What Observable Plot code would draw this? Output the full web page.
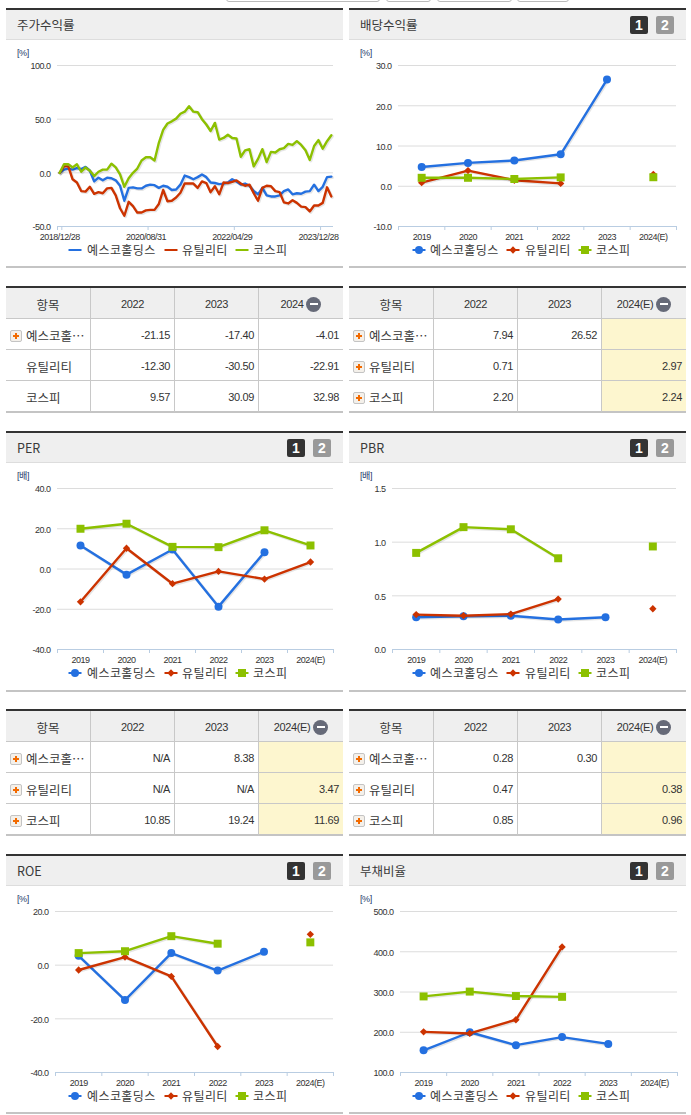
<!DOCTYPE html>
<html lang="ko">
<head>
<meta charset="utf-8">
<script src="https://cdn.jsdelivr.net/npm/d3@7"></script>
<script src="https://cdn.jsdelivr.net/npm/@observablehq/plot@0.6"></script>
<style>
html,body{margin:0;padding:0;background:#fff;width:691px;height:1115px;overflow:hidden}
body{position:relative;font-family:"Noto Sans CJK KR","Noto Sans",sans-serif;color:#333}
.abs{position:absolute}
.title{font-size:12.5px;line-height:16px;color:#3a3a3a;white-space:nowrap}
.unit{font-family:"Liberation Sans","Noto Sans CJK KR",sans-serif;font-size:9px;line-height:10px;letter-spacing:-.4px;color:#1d3a6b;white-space:nowrap}
.ico{width:18px;height:18px;border-radius:2px;color:#fff;font:bold 14px/18px "Liberation Sans",sans-serif;text-align:center}
.leg{display:flex;align-items:center;font-size:12px;letter-spacing:.4px;line-height:14px;color:#3a3a3a;white-space:nowrap}
table{position:absolute;width:337px;table-layout:fixed;border-collapse:separate;border-spacing:0;border-top:2px solid #333;font-family:"Liberation Sans",sans-serif;font-size:11px;color:#333}
td,th{box-sizing:border-box;height:31px;padding:2px 4px 0;border-bottom:1px solid #c8c8c8;border-right:1px solid #c8c8c8;font-weight:normal;text-align:right;letter-spacing:-.35px;white-space:nowrap;overflow:hidden}
td:first-child,th:first-child{width:85px}
td:last-child,th:last-child{border-right:0;width:84px}
th{background:#efefef;text-align:center;letter-spacing:-.4px}
tr:last-child td{height:32px;border-bottom:2px solid #c4c4c4}
td.name{position:relative;text-align:left;padding-left:20px;font-family:"Noto Sans CJK KR",sans-serif;font-size:12.5px;letter-spacing:0;overflow:visible;color:#3a3a3a}
td.est{background:#fdf6cf}
.plus{position:absolute;left:4px;top:11px;width:10px;height:10px;border:1px solid #c4c4c4;border-radius:2px;background:#f4f0ea}
.plus:before{content:"";position:absolute;left:2px;top:4px;width:6px;height:2px;background:#f26a00}
.plus:after{content:"";position:absolute;left:4px;top:2px;width:2px;height:6px;background:#f26a00}
.thw{display:flex;justify-content:center;align-items:center;gap:3px}
.minus{position:relative;width:15px;height:15px;border-radius:50%;background:#666a78;display:inline-block}
.minus:before{content:"";position:absolute;left:3.5px;top:6.5px;width:8px;height:2px;background:#fff}
.stub{position:absolute;top:-18px;height:18px;border:1px solid #bbb;border-radius:3px;box-sizing:content-box}
</style>
</head>
<body>
<script>
// ---- categories and labels ----
const seriesNames = ["예스코홀딩스", "유틸리티", "코스피"];
const years = ["2019", "2020", "2021", "2022", "2023", "2024(E)"];
const stockDates = ["2018/12/28", "2020/08/31", "2022/04/29", "2023/12/28"];
const stockDateIdx = [0, 20, 40, 60];

// ---- 주가수익률 (monthly) ----
const stockBlue = [
  0, 3, 4, 3, 4.5, 3.5, 5.5, 2, -8, -4.5,
  -7, -4.5, -5, -7, -12, -26, -14, -13.5, -14.5, -14.5,
  -12, -11, -11.5, -14, -12, -13, -16, -15.5, -11, -2.5,
  -4, -6, -4, -1.5, -4, -9, -9.5, -10.5, -10, -9,
  -6, -8, -11, -10, -12, -17, -20, -14, -21, -22,
  -22, -21, -17, -15.5, -20, -19, -19.5, -17.5, -17, -11,
  -17, -13, -4, -3.5
];
const stockRed = [
  0, 6, 6, -6, -9, -17, -17.5, -13, -19.5, -18,
  -19, -14.5, -14, -21, -33, -40, -27, -31, -37, -37,
  -35, -34.5, -34.5, -29, -16, -26.5, -26, -23, -18.5, -10,
  -10, -10, -14, -8, -9.5, -18, -12.5, -20, -9, -9.5,
  -8.5, -7, -10, -12, -11, -19, -26, -14, -12, -12.5,
  -17, -18, -27.5, -28.5, -25.5, -28, -31.5, -32, -36, -30.5,
  -30.5, -28, -13.5, -22
];
const stockGreen = [
  0, 8, 8, 5, 8, 1, 5, 2, -3, 1,
  3, 3, 8.5, 5, -1.5, -13, -5, 0, 4, 11.5,
  14.5, 14.5, 11.5, 28, 40, 46, 48, 50.5, 55, 57,
  62, 57, 56.5, 50, 45, 39, 46.5, 31, 32.5, 35.5,
  32.5, 32, 15, 21, 22, 6, 13, 22, 10, 19.5,
  19, 22, 23, 27, 26, 29.5, 26, 21, 12, 25,
  30.5, 22.5, 29.5, 35
];

// ---- annual charts ----
const divBlue = [4.8, 5.8, 6.4, 7.94, 26.52, null];
const divRed = [0.9, 3.9, 1.5, 0.71, null, 2.97];
const divGreen = [2.1, 2.1, 1.8, 2.2, null, 2.24];
const perBlue = [11.7, -2.8, 9.7, -18.7, 8.38, null];
const perRed = [-16.3, 10.3, -7.3, -1.2, -5, 3.47];
const perGreen = [20, 22.5, 11, 10.85, 19.24, 11.69];
const pbrBlue = [0.3, 0.31, 0.315, 0.28, 0.3, null];
const pbrRed = [0.325, 0.315, 0.33, 0.47, null, 0.38];
const pbrGreen = [0.9, 1.14, 1.12, 0.85, null, 0.96];
const roeBlue = [3.5, -13, 4.5, -2, 5, null];
const roeRed = [-1.8, 3, -4.2, -30.3, null, 11.5];
const roeGreen = [4.5, 5.2, 10.8, 8, null, 8.5];
const debtBlue = [155, 200, 168, 188, 171, null];
const debtRed = [201, 197, 231, 412, null, null];
const debtGreen = [289, 301, 290, 288, null, null];

// ---- y ticks ----
const stockTicks = [-50, 0, 50, 100];
const divTicks = [-10, 0, 10, 20, 30];
const perTicks = [-40, -20, 0, 20, 40];
const pbrTicks = [0, 0.5, 1, 1.5];
const roeTicks = [-40, -20, 0, 20];
const debtTicks = [100, 200, 300, 400, 500];

// ---- tables ----
const tbl1Head = ["항목", "2022", "2023", "2024"];
const tbl1Rows = [["예스코홀…", "-21.15", "-17.40", "-4.01"], ["유틸리티", "-12.30", "-30.50", "-22.91"], ["코스피", "9.57", "30.09", "32.98"]];
const tbl2Head = ["항목", "2022", "2023", "2024(E)"];
const tbl2Rows = [["예스코홀…", "7.94", "26.52", ""], ["유틸리티", "0.71", "", "2.97"], ["코스피", "2.20", "", "2.24"]];
const tbl3Rows = [["예스코홀…", "N/A", "8.38", ""], ["유틸리티", "N/A", "N/A", "3.47"], ["코스피", "10.85", "19.24", "11.69"]];
const tbl4Rows = [["예스코홀…", "0.28", "0.30", ""], ["유틸리티", "0.47", "", "0.38"], ["코스피", "0.85", "", "0.96"]];

// ---- style and layout ----
const colors = ["#2470e0", "#cc3300", "#8cc000"];
const symbols = ["circle", "diamond2", "square"];
const radii = [4, 3.3, 4.5];
const GRID = "#dcdcdc", AXIS = "#b9cde2";
const COL = [6, 349];
const page = document.body;

function add(cls, left, top, html, extra) {
  const d = document.createElement("div");
  d.className = "abs " + cls;
  d.style.left = left + "px"; d.style.top = top + "px";
  if (html != null) d.innerHTML = html;
  if (extra) Object.assign(d.style, extra);
  page.appendChild(d);
  return d;
}

function panel(col, top, bottom, title, icons) {
  const x = COL[col], w = 337;
  add("", x, top, null, {width: w + "px", height: "2px", background: "#333"});
  add("", x, top + 2, null, {width: w + "px", height: "30px", background: "#efefef", borderBottom: "1px solid #ddd", boxSizing: "border-box"});
  add("", x, bottom, null, {width: w + "px", height: "2px", background: "#c4c4c4"});
  add("title", x + 11, top + 9, title);
  if (icons) {
    add("ico", x + 281, top + 8, "1", {background: "#333"});
    add("ico", x + 307, top + 8, "2", {background: "#999"});
  }
}

function marksFor(rows, pointMarkers) {
  const marks = [];
  rows.forEach((vals, k) => {
    const d = vals.map((v, i) => ({i, v}));
    const X = pointMarkers ? (p => p.i + 0.5) : (p => p.i);
    marks.push(Plot.line(d, {x: X, y: "v", stroke: "#000", strokeOpacity: 0.1, strokeWidth: 3, dx: 1, dy: 1}));
    marks.push(Plot.line(d, {x: X, y: "v", stroke: colors[k], strokeWidth: 2.4, strokeLinejoin: "round"}));
    if (pointMarkers) marks.push(Plot.dot(d, {x: X, y: "v", fill: colors[k], stroke: "none", symbol: () => symbols[k], r: radii[k]}));
  });
  return marks;
}

function chart(o) {
  const plotH = o.bottom - o.top;
  const svgTop = o.top - 10, x0 = COL[o.col];
  const marks = [
    Plot.ruleY(o.ticks.filter(t => t !== o.ticks[0]), {stroke: GRID}),
    Plot.ruleY([o.ticks[0]], {stroke: AXIS}),
    Plot.axisY({ticks: o.ticks, tickSize: 0, tickPadding: 7, dy: 1, tickFormat: t => t.toFixed(1), label: null, fill: "#333"}),
    Plot.axisX({ticks: o.tickAt, tickSize: 4, tickFormat: () => "", label: null, stroke: AXIS}),
    Plot.axisX({ticks: o.labelAt, tickSize: 0, tickPadding: 7, tickFormat: o.labelFmt, label: null, fill: "#333"}),
    ...marksFor(o.rows, o.markers)
  ];
  const svg = Plot.plot({
    width: 337, height: plotH + 30,
    marginLeft: o.left - x0, marginRight: x0 + 337 - o.right, marginTop: 10, marginBottom: 20,
    x: {type: "linear", domain: o.xDomain},
    y: {type: "linear", domain: [o.ticks[0], o.ticks[o.ticks.length - 1]]},
    style: {fontFamily: '"Liberation Sans",sans-serif', fontSize: "9px", letterSpacing: "-0.5px", color: "#333", background: "transparent", overflow: "visible"},
    marks
  });
  svg.style.position = "absolute";
  svg.style.left = x0 + "px";
  svg.style.top = svgTop + "px";
  page.appendChild(svg);
  add("unit", x0 + 11, o.top - 17, o.unit);
  legend(o.col, o.bottom + 24, o.markers);
}

const LEG = [[69, 87, 165, 182, 236, 253], [413, 430, 507, 525, 579, 596]];
function swatch(k, markers) {
  const sym = d3.symbol().type([d3.symbolCircle, d3.symbolDiamond2, d3.symbolSquare][k]).size(Math.PI * radii[k] * radii[k]);
  return `<svg width="14" height="10" viewBox="-7 -5 14 10" style="display:block"><line x1="-6.5" x2="6.5" stroke="${colors[k]}" stroke-width="2"/>` +
    (markers ? `<path d="${sym()}" fill="${colors[k]}"/>` : "") + `</svg>`;
}
function legend(col, y, markers) {
  seriesNames.forEach((n, k) => {
    add("", LEG[col][k * 2] - 1, y - 5, swatch(k, markers));
    add("leg", LEG[col][k * 2 + 1], y - 7, n);
  });
}

function table(col, top, head, rows, icons, est) {
  const t = document.createElement("table");
  t.style.left = COL[col] + "px"; t.style.top = top + "px";
  let h = "<tr>" + head.map((c, i) => i === 3 ? `<th><div class="thw"><span>${c}</span><span class="minus"></span></div></th>`
    : i === 0 ? `<th style="font:12.5px 'Noto Sans CJK KR',sans-serif;letter-spacing:0;color:#3a3a3a">${c}</th>` : `<th>${c}</th>`).join("") + "</tr>";
  rows.forEach((r, ri) => {
    h += "<tr>" + r.map((c, i) => i === 0
      ? `<td class="name">${icons[ri] ? '<span class="plus"></span>' : ""}${c}</td>`
      : `<td class="${i === 3 && est ? "est" : ""}">${c}</td>`).join("") + "</tr>";
  });
  t.innerHTML = h;
  page.appendChild(t);
}

// ---- clipped buttons at the very top ----
[[226, 152], [386, 43], [437, 73], [517, 50]].forEach(([l, w]) => {
  const s = document.createElement("div");
  s.className = "stub"; s.style.left = l + "px"; s.style.width = w + "px";
  page.appendChild(s);
});

// ---- panels ----
const bandTicks = [0, 1, 2, 3, 4, 5, 6];
const bandLabels = [0.5, 1.5, 2.5, 3.5, 4.5, 5.5];
const yearFmt = t => years[Math.floor(t)];
const annual = {xDomain: [0, 6], tickAt: bandTicks, labelAt: bandLabels, labelFmt: yearFmt, markers: true};

panel(0, 8, 266, "주가수익률", false);
chart({col: 0, top: 65, bottom: 226, left: 57, right: 333, unit: "[%]", ticks: stockTicks,
  rows: [stockBlue, stockRed, stockGreen], xDomain: [-0.5, 63.5], tickAt: [-0.5, 0.5, 20.5, 40.5, 60.5],
  labelAt: stockDateIdx, labelFmt: t => stockDates[stockDateIdx.indexOf(t)], markers: false});
panel(1, 8, 266, "배당수익률", true);
chart({...annual, col: 1, top: 65, bottom: 226, left: 398, right: 676, unit: "[%]", ticks: divTicks, rows: [divBlue, divRed, divGreen]});

table(0, 286, tbl1Head, tbl1Rows, [1, 0, 0], false);
table(1, 286, tbl2Head, tbl2Rows, [1, 1, 1], true);

panel(0, 431, 690, "PER", true);
chart({...annual, col: 0, top: 488, bottom: 649, left: 57, right: 333, unit: "[배]", ticks: perTicks, rows: [perBlue, perRed, perGreen]});
panel(1, 431, 690, "PBR", true);
chart({...annual, col: 1, top: 488, bottom: 649, left: 392, right: 676, unit: "[배]", ticks: pbrTicks, rows: [pbrBlue, pbrRed, pbrGreen]});

table(0, 709, tbl2Head, tbl3Rows, [1, 1, 1], true);
table(1, 709, tbl2Head, tbl4Rows, [1, 1, 1], true);

panel(0, 854, 1112, "ROE", true);
chart({...annual, col: 0, top: 911, bottom: 1072, left: 55, right: 333, unit: "[%]", ticks: roeTicks, rows: [roeBlue, roeRed, roeGreen]});
panel(1, 854, 1112, "부채비율", true);
chart({...annual, col: 1, top: 911, bottom: 1072, left: 400, right: 677, unit: "[%]", ticks: debtTicks, rows: [debtBlue, debtRed, debtGreen]});
</script>
</body>
</html>
